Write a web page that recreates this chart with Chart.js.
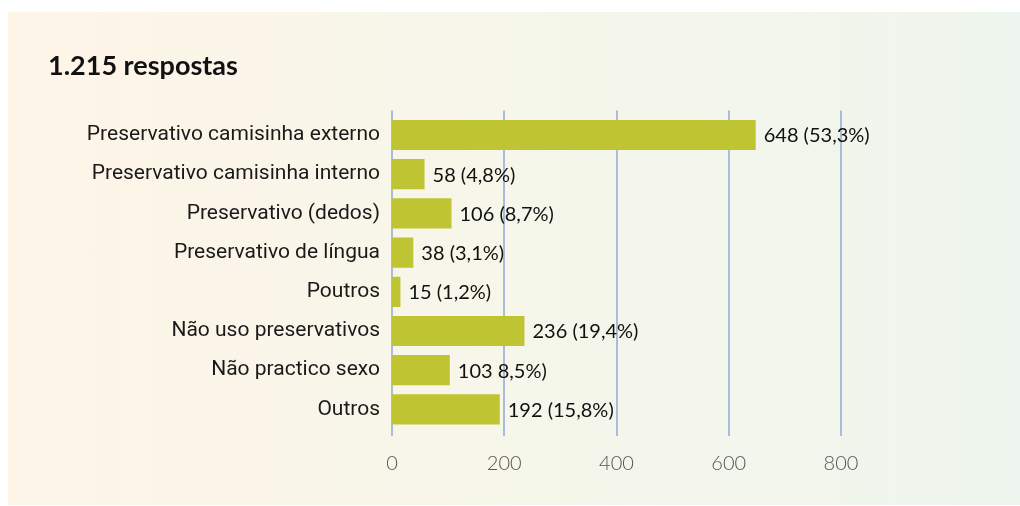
<!DOCTYPE html>
<html>
<head>
<meta charset="utf-8">
<script src="https://cdn.jsdelivr.net/npm/chart.js@4"></script>
<style>
  html, body { margin: 0; padding: 0; background: #fff; }
  .card {
    position: absolute; left: 8px; top: 12px; width: 1012px; height: 493px;
    background: linear-gradient(to right, #fef5e7, #f6f6ea 50%, #eef5ee);
  }
</style>
</head>
<body>
<div class="card"><canvas id="chart" width="1012" height="493"></canvas></div>
<script>
const categories = [
  "Preservativo camisinha externo",
  "Preservativo camisinha interno",
  "Preservativo (dedos)",
  "Preservativo de língua",
  "Poutros",
  "Não uso preservativos",
  "Não practico sexo",
  "Outros",
];
const counts = [648, 58, 106, 38, 15, 236, 103, 192];
const valueLabels = [
  "648 (53,3%)", "58 (4,8%)", "106 (8,7%)", "38 (3,1%)",
  "15 (1,2%)", "236 (19,4%)", "103 8,5%)", "192 (15,8%)",
];
const xTicks = [0, 200, 400, 600, 800];

// grid lines run a bit past the plot area, behind the bars
const gridLines = {
  id: "gridLines",
  beforeDatasetsDraw(chart) {
    const { ctx, chartArea, scales } = chart;
    ctx.save();
    ctx.strokeStyle = "#a9bddb";
    ctx.lineWidth = 2;
    xTicks.forEach(v => {
      const x = Math.round(scales.x.getPixelForValue(v));
      ctx.beginPath();
      ctx.moveTo(x, chartArea.top - 5);
      ctx.lineTo(x, chartArea.bottom + 7);
      ctx.stroke();
    });
    ctx.restore();
  },
};

const barLabels = {
  id: "barLabels",
  afterDatasetsDraw(chart) {
    const { ctx } = chart;
    const meta = chart.getDatasetMeta(0);
    ctx.save();
    ctx.font = "20px Lato";
    ctx.fillStyle = "#111";
    ctx.textBaseline = "middle";
    meta.data.forEach((bar, i) => {
      ctx.fillText(valueLabels[i], bar.x + 8, bar.y + 1);
    });
    ctx.restore();
  },
};

new Chart(document.getElementById("chart"), {
  type: "bar",
  data: {
    labels: categories,
    datasets: [{
      data: counts,
      backgroundColor: "#bfc432",
      categoryPercentage: 0.77,
      barPercentage: 1,
    }],
  },
  options: {
    indexAxis: "y",
    responsive: false,
    animation: false,
    layout: { padding: { left: 40, right: 179, bottom: 0, top: 0 } },
    plugins: {
      legend: { display: false },
      tooltip: { enabled: false },
      title: {
        display: true,
        text: "1.215 respostas",
        align: "start",
        color: "#111",
        font: { family: "Lato", size: 27, weight: "bold" },
        padding: { top: 38, bottom: 33 },
      },
    },
    scales: {
      x: {
        min: 0,
        max: 800,
        afterBuildTicks: s => { s.ticks = xTicks.map(v => ({ value: v })); },
        afterFit: s => { s.height = 76; },
        grid: { display: false },
        border: { display: false },
        ticks: {
          padding: 15,
          color: "#555",
          font: { family: "Lato", size: 20, weight: 300 },
        },
      },
      y: {
        grid: { display: false },
        border: { display: false },
        afterFit: s => { s.width = 344; },
        ticks: {
          padding: 4,
          color: "#1a1a1a",
          font: { family: "Roboto", size: 21 },
        },
      },
    },
  },
  plugins: [gridLines, barLabels],
});
</script>
</body>
</html>
